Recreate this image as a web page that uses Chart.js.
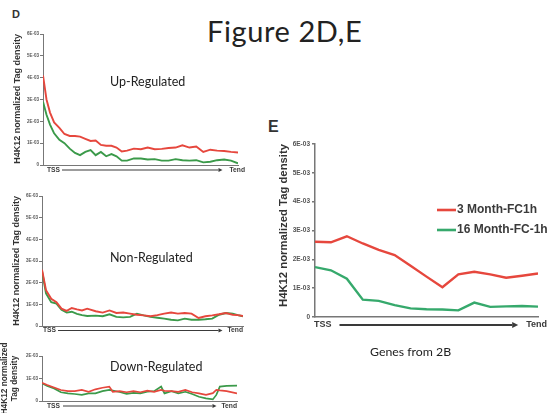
<!DOCTYPE html>
<html>
<head>
<meta charset="utf-8">
<script src="https://cdn.jsdelivr.net/npm/chart.js@4.4.0/dist/chart.umd.min.js"></script>
<style>
html, body { margin: 0; padding: 0; background: #fff; }
#page { position: relative; width: 547px; height: 413px; overflow: hidden; background: #fff; }
.box { position: absolute; }
.txt { position: absolute; font-family: Lato, "Open Sans", sans-serif; color: #222; line-height: 1; white-space: nowrap; }
.letter { position: absolute; font-family: "Liberation Sans", Arial, sans-serif; font-weight: bold; color: #333; line-height: 1; }
</style>
</head>
<body>
<div id="page">
  <div class="txt" style="left:207px; top:16px; font-size:29px; letter-spacing:0.6px;">Figure 2D,E</div>
  <div class="letter" style="left:12px; top:9px; font-size:11px;">D</div>
  <div class="letter" style="left:268px; top:119px; font-size:16px;">E</div>

  <div class="box" style="left:0px; top:25px;"><canvas id="cUp" width="252" height="155"></canvas></div>
  <div class="box" style="left:0px; top:185px;"><canvas id="cNon" width="252" height="155"></canvas></div>
  <div class="box" style="left:0px; top:330px;"><canvas id="cDown" width="252" height="83"></canvas></div>
  <div class="box" style="left:258px; top:130px;"><canvas id="cE" width="289" height="210"></canvas></div>

  <div class="txt" style="left:110px; top:76px; font-size:12.5px;">Up-Regulated</div>
  <div class="txt" style="left:110px; top:252px; font-size:12.5px;">Non-Regulated</div>
  <div class="txt" style="left:110px; top:361px; font-size:12.5px;">Down-Regulated</div>
  <div class="txt" style="left:370px; top:346px; font-size:12.3px;">Genes from 2B</div>
</div>

<script>
// values are in units of 1E-03 (normalized tag density)
const startLabel = 'TSS';
const endLabel = 'Tend';
const yTitle = 'H4K12 normalized Tag density';

// D - Up-Regulated (position along gene body, %)
const upPos = [0, 1.8, 3.6, 5.7, 8.4, 11.0, 13.7, 16.4, 19.0, 21.7, 24.4, 27.0, 29.7, 32.4, 35.1, 37.7, 40.4,
  43.1, 46.6, 50.2, 53.7, 57.3, 60.9, 64.4, 68.0, 71.5, 75.1, 78.6, 82.2, 85.8, 89.3, 92.9, 96.4, 100];
const upRed = [4.1, 3.0, 2.4, 1.95, 1.7, 1.42, 1.33, 1.33, 1.3, 1.2, 1.1, 1.12, 0.92, 0.88, 0.88, 0.8, 0.62,
  0.66, 0.75, 0.72, 0.8, 0.72, 0.74, 0.78, 0.8, 0.9, 0.8, 0.85, 0.6, 0.7, 0.66, 0.64, 0.6, 0.57];
const upGreen = [2.9, 2.3, 1.85, 1.45, 1.15, 1.0, 0.75, 0.55, 0.45, 0.6, 0.68, 0.45, 0.6, 0.4, 0.5, 0.4, 0.2,
  0.2, 0.3, 0.3, 0.25, 0.27, 0.2, 0.2, 0.27, 0.22, 0.2, 0.22, 0.12, 0.15, 0.22, 0.25, 0.2, 0.08];

// D - Non-Regulated
const nonPos = [0, 2.0, 4.6, 7.2, 9.7, 12.3, 14.8, 17.4, 19.9, 22.5, 26.7, 30.2, 33.6, 37.0, 40.4, 43.8, 47.2,
  50.6, 54.0, 57.4, 60.8, 64.2, 67.6, 71.0, 74.4, 77.9, 81.3, 84.7, 88.1, 91.5, 94.9, 97.4, 100];
const nonRed = [2.6, 1.65, 1.26, 1.1, 0.8, 0.7, 0.83, 0.77, 0.72, 0.8, 0.68, 0.62, 0.72, 0.6, 0.62, 0.57, 0.52,
  0.49, 0.45, 0.5, 0.57, 0.62, 0.57, 0.6, 0.57, 0.37, 0.45, 0.49, 0.54, 0.6, 0.52, 0.5, 0.46];
const nonGreen = [2.54, 1.5, 1.1, 1.03, 0.75, 0.62, 0.66, 0.56, 0.5, 0.46, 0.48, 0.45, 0.54, 0.42, 0.4, 0.42, 0.57,
  0.49, 0.42, 0.38, 0.34, 0.29, 0.26, 0.34, 0.29, 0.29, 0.31, 0.34, 0.52, 0.6, 0.57, 0.5, 0.45];

// D - Down-Regulated
const downPos = [0, 2.7, 6.2, 9.7, 13.3, 16.8, 20.4, 23.9, 27.4, 31.0, 34.5, 36.3, 39.8, 43.4, 46.9, 50.4, 54.0,
  57.5, 61.1, 62.8, 66.4, 69.9, 73.5, 77.0, 80.5, 84.1, 87.6, 89.4, 91.2, 94.7, 100];
const downRed = [0.81, 0.71, 0.6, 0.49, 0.44, 0.44, 0.49, 0.41, 0.52, 0.59, 0.64, 0.41, 0.44, 0.39, 0.44, 0.39, 0.46,
  0.41, 0.49, 0.45, 0.44, 0.41, 0.49, 0.39, 0.34, 0.27, 0.35, 0.49, 0.47, 0.44, 0.34];
const downGreen = [0.79, 0.67, 0.56, 0.39, 0.34, 0.31, 0.27, 0.34, 0.34, 0.44, 0.49, 0.46, 0.4, 0.32, 0.36, 0.34, 0.41,
  0.44, 0.64, 0.34, 0.44, 0.34, 0.41, 0.31, 0.19, 0.12, 0.07, 0.27, 0.64, 0.67, 0.68];

// E - Genes from 2B (15 bins TSS -> Tend)
const ePos = [0, 1, 2, 3, 4, 5, 6, 7, 8, 9, 10, 11, 12, 13, 14];
const eRed = [2.61, 2.59, 2.8, 2.55, 2.33, 2.15, 1.78, 1.4, 1.03, 1.48, 1.57, 1.48, 1.36, 1.43, 1.51];
const eGreen = [1.73, 1.62, 1.33, 0.6, 0.56, 0.41, 0.3, 0.27, 0.26, 0.23, 0.5, 0.35, 0.37, 0.38, 0.36];
const eLabels = ['3 Month-FC1h', '16 Month-FC-1h'];

const RED = '#e6473d';
const GREEN_D = '#3b9a4a';
const GREEN_E = '#36a96c';
const FONT = '"Liberation Sans", Arial, sans-serif';

// TSS ---------> Tend under the x axis
const geneAxis = {
  id: 'geneAxis',
  afterDraw(chart, args, o) {
    const { ctx, chartArea: a } = chart;
    const xs = chart.scales.x;
    const y = a.bottom + o.dy;
    ctx.save();
    ctx.font = 'bold ' + o.size + 'px ' + FONT;
    ctx.fillStyle = '#3a3a3a';
    ctx.strokeStyle = '#3a3a3a';
    ctx.textBaseline = 'middle';
    const x0 = xs.getPixelForValue(xs.min) + o.tssShift;
    const x1 = xs.getPixelForValue(xs.max) + o.tendShift;
    ctx.textAlign = 'left';
    ctx.fillText(startLabel, x0, y);
    ctx.textAlign = 'right';
    ctx.fillText(endLabel, x1, y);
    const a0 = x0 + ctx.measureText(startLabel).width + o.gapL;
    const a1 = x1 - ctx.measureText(endLabel).width - o.gapR;
    ctx.lineWidth = o.lineWidth;
    ctx.beginPath();
    ctx.moveTo(a0, y);
    ctx.lineTo(a1 - o.head, y);
    ctx.stroke();
    ctx.beginPath();
    ctx.moveTo(a1, y);
    ctx.lineTo(a1 - o.head, y - o.head / 2);
    ctx.lineTo(a1 - o.head, y + o.head / 2);
    ctx.closePath();
    ctx.fill();
    ctx.restore();
  }
};

// legend drawn inside the plot (panel E)
const lineLegend = {
  id: 'lineLegend',
  afterDraw(chart, args, o) {
    const { ctx, chartArea: a } = chart;
    ctx.save();
    ctx.font = 'bold ' + o.size + 'px ' + FONT;
    ctx.textBaseline = 'middle';
    ctx.textAlign = 'left';
    chart.data.datasets.forEach((ds, i) => {
      const x = a.left + o.dx;
      const y = a.top + o.dy + i * o.rowGap;
      ctx.strokeStyle = ds.borderColor;
      ctx.lineWidth = o.lineWidth;
      ctx.beginPath();
      ctx.moveTo(x, y);
      ctx.lineTo(x + o.swatch, y);
      ctx.stroke();
      ctx.fillStyle = '#3a3a3a';
      ctx.fillText(ds.label, x + o.swatch + 1, y);
    });
    ctx.restore();
  }
};

function makeChart(id, p) {
  return new Chart(document.getElementById(id), {
    type: 'line',
    data: {
      datasets: p.series.map(s => ({
        label: s.label,
        data: p.pos.map((x, i) => ({ x: x, y: s.values[i] })),
        borderColor: s.color,
        borderWidth: p.lineWidth,
        pointRadius: 0,
        tension: 0,
        fill: false
      }))
    },
    options: {
      responsive: false,
      animation: false,
      events: [],
      layout: { padding: p.padding },
      plugins: {
        legend: { display: false },
        tooltip: { enabled: false },
        geneAxis: p.geneAxis,
        lineLegend: p.legend || false
      },
      scales: {
        x: {
          type: 'linear',
          min: p.pos[0],
          max: p.pos[p.pos.length - 1],
          ticks: { display: false },
          grid: { display: true, drawOnChartArea: false, drawTicks: false, color: '#777' },
          border: { display: true, color: '#777', width: p.axisWidth },
          afterFit: s => { s.height = p.xHeight; }
        },
        y: {
          min: 0,
          max: p.yMax,
          ticks: {
            stepSize: 1,
            color: '#555',
            padding: p.tickPad,
            font: { family: FONT, size: p.tickSize, weight: 'bold' },
            callback: v => (v === 0 ? '0' : v + 'E-03')
          },
          grid: { drawOnChartArea: false, drawTicks: true, tickLength: p.tickLen, color: '#777', lineWidth: p.axisWidth },
          border: { display: true, color: '#777', width: p.axisWidth },
          title: {
            display: true,
            text: p.title,
            color: '#333',
            align: p.titleAlign,
            font: { family: FONT, size: p.titleSize, weight: 'bold', lineHeight: 1.15 },
            padding: { top: p.titlePad, bottom: 0 }
          },
          afterFit: s => { s.width = p.yWidth; }
        }
      }
    },
    plugins: [geneAxis, lineLegend]
  });
}

const dAxis = { dy: 5, size: 6.7, tssShift: 4, tendShift: 7, gapL: 2, gapR: 7, head: 4, lineWidth: 1.2 };

makeChart('cUp', {
  pos: upPos,
  series: [{ label: 'red', values: upRed, color: RED }, { label: 'green', values: upGreen, color: GREEN_D }],
  lineWidth: 1.9, axisWidth: 1, yMax: 6,
  padding: { left: 0, top: 9, right: 14, bottom: 0 },
  xHeight: 15, yWidth: 43, tickPad: 1, tickLen: 3, tickSize: 4.5,
  title: yTitle, titleSize: 9, titleAlign: 'end', titlePad: 12,
  geneAxis: dAxis
});

makeChart('cNon', {
  pos: nonPos,
  series: [{ label: 'red', values: nonRed, color: RED }, { label: 'green', values: nonGreen, color: GREEN_D }],
  lineWidth: 1.9, axisWidth: 1, yMax: 6,
  padding: { left: 0, top: 11, right: 9, bottom: 0 },
  xHeight: 14, yWidth: 42, tickPad: 1, tickLen: 3, tickSize: 4.5,
  title: yTitle, titleSize: 9, titleAlign: 'end', titlePad: 11,
  geneAxis: Object.assign({}, dAxis, { tssShift: 1, tendShift: 0, gapR: 5, dy: 4.5 })
});

makeChart('cDown', {
  pos: downPos,
  series: [{ label: 'red', values: downRed, color: RED }, { label: 'green', values: downGreen, color: GREEN_D }],
  lineWidth: 1.7, axisWidth: 1, yMax: 2,
  padding: { left: 0, top: 26, right: 15, bottom: 0 },
  xHeight: 12, yWidth: 42, tickPad: 1, tickLen: 3, tickSize: 4.5,
  title: ['H4K12 normalized', 'Tag density'], titleSize: 8.3, titleAlign: 'center', titlePad: 0,
  geneAxis: Object.assign({}, dAxis, { tssShift: 5, tendShift: 0, gapL: 3, gapR: 5 })
});

makeChart('cE', {
  pos: ePos,
  series: [{ label: eLabels[0], values: eRed, color: RED }, { label: eLabels[1], values: eGreen, color: GREEN_E }],
  lineWidth: 2.4, axisWidth: 1.5, yMax: 6,
  padding: { left: 0, top: 14, right: 9, bottom: 0 },
  xHeight: 23, yWidth: 57, tickPad: 2, tickLen: 3, tickSize: 6.5,
  title: yTitle, titleSize: 11.3, titleAlign: 'end', titlePad: 19,
  geneAxis: { dy: 8, size: 9, tssShift: -1, tendShift: 9, gapL: 8, gapR: 8, head: 6, lineWidth: 2 },
  legend: { dx: 122, dy: 66, rowGap: 20, swatch: 19, lineWidth: 2.6, size: 12 }
});
</script>
</body>
</html>
